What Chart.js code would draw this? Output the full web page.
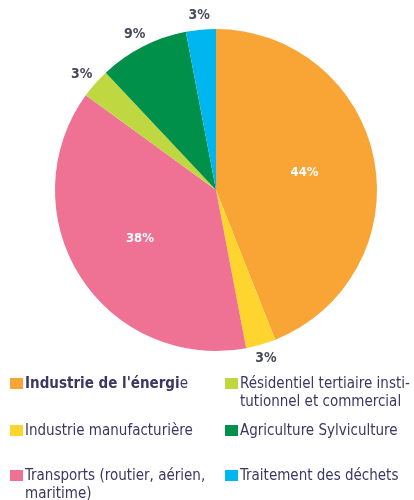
<!DOCTYPE html>
<html>
<head>
<meta charset="utf-8">
<script src="https://cdn.jsdelivr.net/npm/chart.js@4"></script>
<style>
    html, body { margin: 0; padding: 0; background: #fff; }
    #wrap { width: 414px; height: 500px; position: relative; }
</style>
</head>
<body>
<div id="wrap"><canvas id="chart"></canvas></div>
<script>
// secteurs, dans l'ordre du graphique (sens horaire depuis midi)
const sectors = [
    "Industrie de l'énergie",
    "Industrie manufacturière",
    "Transports (routier, aérien, maritime)",
    "Résidentiel tertiaire institutionnel et commercial",
    "Agriculture Sylviculture",
    "Traitement des déchets",
]
const shares = [44, 3, 38, 3, 9, 3]
const colors = ["#f8a535", "#fed52e", "#ef7194", "#bfd740", "#00904a", "#00b6ee"]

// legende sur deux colonnes, avec les coupures de ligne du document
const legendLines = [
    ["Industrie de l'énergie"],
    ["Industrie manufacturière"],
    ["Transports (routier, aérien,", "maritime)"],
    ["Résidentiel tertiaire insti-", "tutionnel et commercial"],
    ["Agriculture Sylviculture"],
    ["Traitement des déchets"],
]

const FONT = "'Liberation Sans Narrow', 'DejaVu Sans Condensed', sans-serif"
const TEXT = "#3b3763"

const pctLabels = {
    id: "pctLabels",
    afterDatasetsDraw(chart) {
        const ctx = chart.ctx
        const meta = chart.getDatasetMeta(0)
        ctx.save()
        ctx.textAlign = "center"
        ctx.textBaseline = "middle"
        meta.data.forEach((arc, i) => {
            const { x, y, startAngle, endAngle, outerRadius } = arc.getProps(
                ["x", "y", "startAngle", "endAngle", "outerRadius"], true)
            const mid = (startAngle + endAngle) / 2
            const txt = shares[i] + "%"
            if (shares[i] > 20) {
                ctx.font = "bold 13px " + FONT
                ctx.fillStyle = "#fff"
                const r = outerRadius * 0.56
                ctx.fillText(txt, x + Math.cos(mid) * r, y + Math.sin(mid) * r)
            } else {
                ctx.font = "bold 14px " + FONT
                ctx.fillStyle = "#4a4a5c"
                const r = outerRadius + 14
                // un peu plus loin quand le texte s'etale sur le cote
                const dx = Math.cos(mid) * (r + 4)
                const dy = Math.sin(mid) * r
                ctx.fillText(txt, x + dx, y + dy)
            }
        })
        ctx.restore()
    },
}

const sideLegend = {
    id: "sideLegend",
    afterDraw(chart) {
        const ctx = chart.ctx
        const cols = [10, 225]
        const rows = [383, 430, 475]
        ctx.save()
        ctx.textBaseline = "middle"
        ctx.textAlign = "left"
        legendLines.forEach((lines, i) => {
            const x = cols[Math.floor(i / 3)]
            const y = rows[i % 3]
            ctx.fillStyle = colors[i]
            ctx.fillRect(x, y - 5, 13, 11)
            ctx.fillStyle = TEXT
            lines.forEach((line, j) => {
                if (i === 0) {
                    // le titre est en gras sauf la derniere lettre
                    ctx.font = "bold 15px " + FONT
                    const head = line.slice(0, -1)
                    ctx.fillText(head, x + 15, y + 1)
                    const w = ctx.measureText(head).width
                    ctx.font = "15px " + FONT
                    ctx.fillText(line.slice(-1), x + 15 + w, y + 1)
                } else {
                    ctx.font = "15px " + FONT
                    ctx.fillText(line, x + 15, y + 1 + j * 18)
                }
            })
        })
        ctx.restore()
    },
}

new Chart(document.getElementById("chart"), {
    type: "pie",
    data: {
        labels: sectors,
        datasets: [{
            data: shares,
            backgroundColor: colors,
            borderWidth: 0,
        }],
    },
    options: {
        responsive: true,
        maintainAspectRatio: false,
        animation: false,
        layout: {
            padding: { top: 29, bottom: 149, left: 55, right: 37 },
        },
        plugins: {
            legend: { display: false },
            tooltip: { enabled: false },
        },
    },
    plugins: [pctLabels, sideLegend],
})
</script>
</body>
</html>
